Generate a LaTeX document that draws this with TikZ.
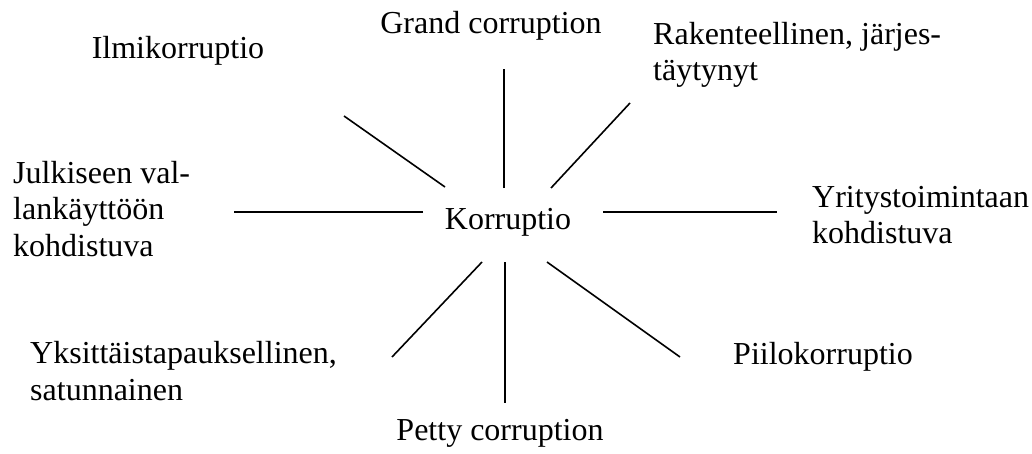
\documentclass[tikz,border=0pt]{standalone}
\usepackage{fontspec}
\setmainfont{Liberation Serif}
\begin{document}
\begin{tikzpicture}[x=1pt,y=-1pt,
  lbl/.style={inner sep=0pt,align=left,font=\fontsize{32}{36.5}\selectfont},
  spoke/.style={draw=black,line width=1.6pt}]
\useasboundingbox (0,0) rectangle (1032,453);
\node[lbl] (kor) at (508,222) {Korruptio};
\node[lbl] (grand) at (491,26) {Grand corruption};
\node[lbl] (ilmi) at (178,51) {Ilmikorruptio};
\node[lbl,anchor=west] (rak) at (653,55) {Rakenteellinen, järjes-\\täytynyt};
\node[lbl,anchor=west] (julk) at (13,209) {Julkiseen val-\\lankäyttöön\\kohdistuva};
\node[lbl,anchor=west] (yrit) at (812,215) {Yritystoimintaan\\kohdistuva};
\node[lbl,anchor=west] (yks) at (30,371) {Yksittäistapauksellinen,\\satunnainen};
\node[lbl] (petty) at (500,433) {Petty corruption};
\node[lbl,anchor=west] (piilo) at (733,357) {Piilokorruptio};
% spoke end points
\coordinate (ilmiA) at (445,187); \coordinate (ilmiB) at (344,116);
\coordinate (grandA) at (504,188); \coordinate (grandB) at (504,69);
\coordinate (rakA) at (551,188); \coordinate (rakB) at (630,103);
\coordinate (julkA) at (423,212); \coordinate (julkB) at (234,212);
\coordinate (yritA) at (603,212); \coordinate (yritB) at (777,212);
\coordinate (yksA) at (482,262); \coordinate (yksB) at (392,357);
\coordinate (pettyA) at (505,262); \coordinate (pettyB) at (505,403);
\coordinate (piiloA) at (547,262); \coordinate (piiloB) at (680,357);
\foreach \s in {ilmi,grand,rak,julk,yrit,yks,petty,piilo}
  \draw[spoke] (\s A) -- (\s B);
\end{tikzpicture}
\end{document}
